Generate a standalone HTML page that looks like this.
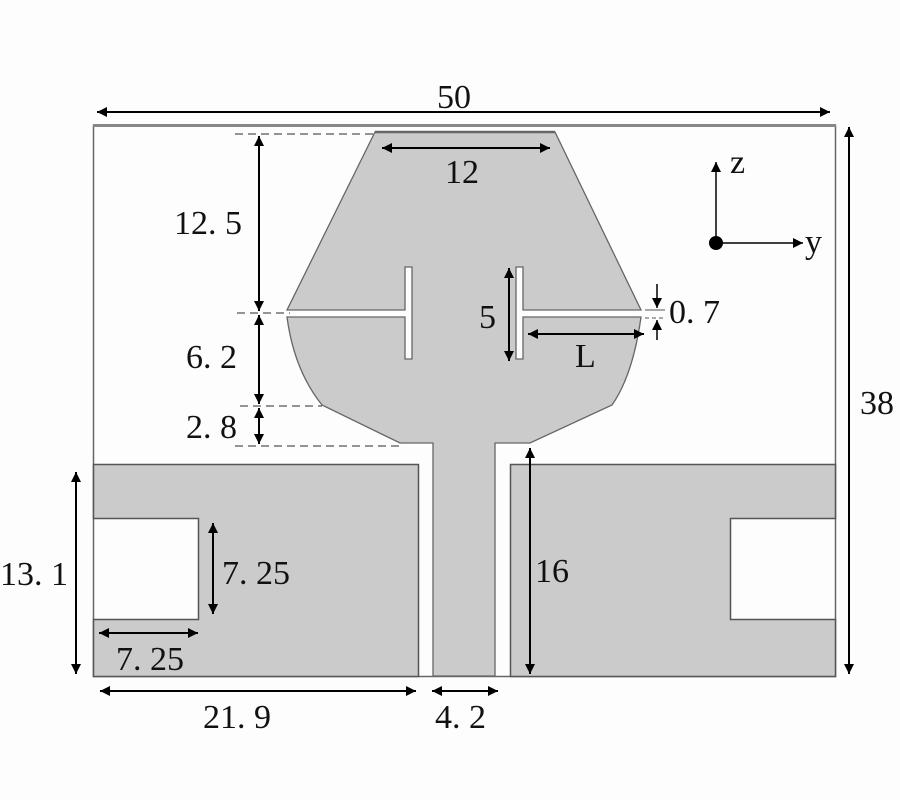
<!DOCTYPE html>
<html><head><meta charset="utf-8"><style>
body{margin:0;background:#fff}
svg{display:block}
text{font-family:"Liberation Serif","Noto Serif CJK SC",serif;font-size:34px;fill:#111}
</style></head><body>
<svg width="900" height="800" viewBox="0 0 900 800" xmlns="http://www.w3.org/2000/svg">
<defs>
<marker id="a" viewBox="0 0 10 10" refX="10" refY="5" markerWidth="14" markerHeight="10" markerUnits="userSpaceOnUse" orient="auto-start-reverse"><path d="M0,0L10,5L0,10z" fill="#000"/></marker>
</defs>
<rect width="900" height="800" fill="#fdfdfd"/>
<rect x="93.5" y="125.5" width="742" height="551" fill="#fdfdfd" stroke="#666" stroke-width="1.5"/>
<line x1="93" y1="125.5" x2="836" y2="125.5" stroke="#888" stroke-width="3"/>
<path d="M93.5,464.5H418.5V676.5H93.5V619.5H198.5V518.5H93.5Z" fill="#cbcbcb" stroke="#555" stroke-width="1.5"/>
<path d="M835.5,464.5H510.5V676.5H835.5V619.5H730.5V518.5H835.5Z" fill="#cbcbcb" stroke="#555" stroke-width="1.5"/>
<path d="M375,132H555L641,310H523V267H516V359H523V317H641Q633,375 612,405L530,443H495V676H433V443H400L322,405Q294,370 287,317H405V359H412V267H405V310H287Z" fill="#cbcbcb" stroke="#666" stroke-width="1.3"/>
<line x1="375" y1="132" x2="555" y2="132" stroke="#666" stroke-width="2.5"/>
<g stroke="#555" stroke-width="1.3" stroke-dasharray="8,5">
<line x1="235" y1="134" x2="375" y2="134"/>
<line x1="237" y1="313" x2="290" y2="313"/>
<line x1="240" y1="406" x2="322" y2="406"/>
<line x1="235" y1="446" x2="400" y2="446"/>
</g>
<g stroke="#000" stroke-width="2" marker-start="url(#a)" marker-end="url(#a)" fill="none">
<line x1="97" y1="112" x2="830" y2="112"/>
<line x1="382" y1="148" x2="550" y2="148"/>
<line x1="259" y1="136" x2="259" y2="311"/>
<line x1="259" y1="315" x2="259" y2="404"/>
<line x1="259" y1="408" x2="259" y2="444"/>
<line x1="849" y1="127" x2="849" y2="674"/>
<line x1="509" y1="268" x2="509" y2="361"/>
<line x1="528" y1="334" x2="644" y2="334"/>
<line x1="76" y1="472" x2="76" y2="674"/>
<line x1="213" y1="523" x2="213" y2="614"/>
<line x1="99" y1="633" x2="198" y2="633"/>
<line x1="100" y1="691" x2="416" y2="691"/>
<line x1="432" y1="691" x2="498" y2="691"/>
<line x1="530" y1="448" x2="530" y2="674"/>
</g>
<g stroke="#000" stroke-width="1.5" marker-end="url(#a)">
<line x1="657" y1="284" x2="657" y2="308"/>
<line x1="657" y1="340" x2="657" y2="320"/>
<line x1="716" y1="243" x2="716" y2="162"/>
<line x1="716" y1="243" x2="803" y2="243"/>
</g>
<line x1="645" y1="310" x2="665" y2="310" stroke="#555" stroke-width="1"/>
<line x1="645" y1="318" x2="665" y2="318" stroke="#555" stroke-width="1" stroke-dasharray="4,3"/>
<circle cx="716" cy="243" r="7" fill="#000"/>
<text x="437" y="108">50</text>
<text x="445" y="183">12</text>
<text x="174" y="234">12. 5</text>
<text x="186" y="368">6. 2</text>
<text x="186" y="438">2. 8</text>
<text x="860" y="414">38</text>
<text x="479" y="328">5</text>
<text x="575" y="367">L</text>
<text x="669" y="323">0. 7</text>
<text x="730" y="173" font-size="30">z</text>
<text x="805" y="253" font-size="30">y</text>
<text x="0" y="585">13. 1</text>
<text x="222" y="584">7. 25</text>
<text x="116" y="670">7. 25</text>
<text x="203" y="728">21. 9</text>
<text x="435" y="728">4. 2</text>
<text x="535" y="582">16</text>
</svg>
</body></html>
